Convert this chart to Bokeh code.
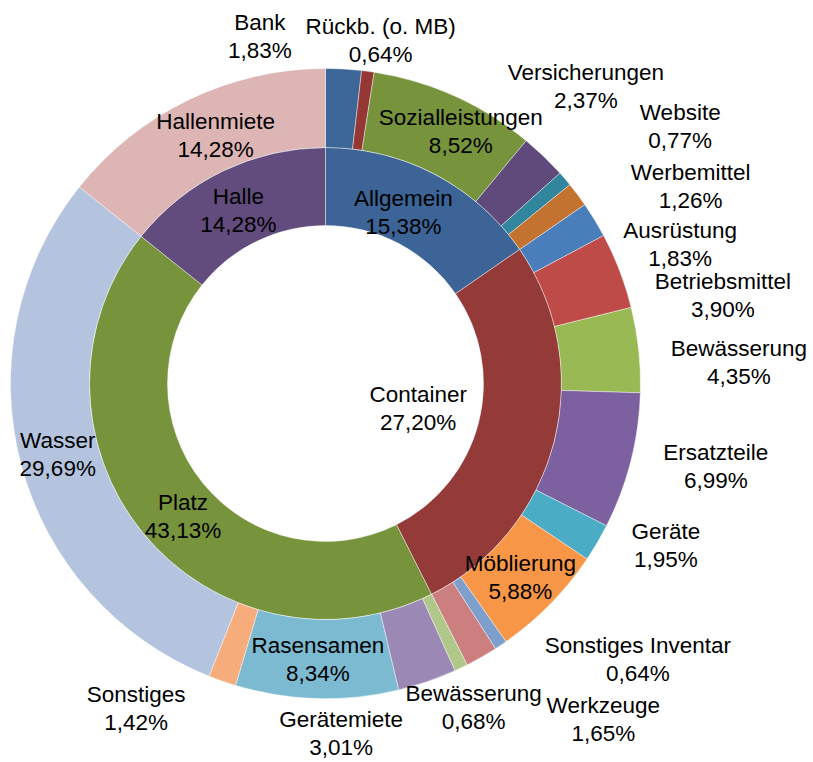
import math
from bokeh.plotting import figure
from bokeh.models import Range1d, ColumnDataSource
from bokeh.core.properties import value
from bokeh.embed import file_html
from bokeh.resources import INLINE

# ---------------- data ----------------
inner_categories = ["Allgemein", "Container", "Platz", "Halle"]
inner_values = [15.38, 27.20, 43.13, 14.28]

outer_categories = [
    "Bank", "Rückb. (o. MB)", "Sozialleistungen", "Versicherungen", "Website",
    "Werbemittel", "Ausrüstung", "Betriebsmittel", "Bewässerung", "Ersatzteile",
    "Geräte", "Möblierung", "Sonstiges Inventar", "Werkzeuge", "Bewässerung",
    "Gerätemiete", "Rasensamen", "Sonstiges", "Wasser", "Hallenmiete",
]
outer_values = [
    1.83, 0.64, 8.52, 2.37, 0.77,
    1.26, 1.83, 3.90, 4.35, 6.99,
    1.95, 5.88, 0.64, 1.65, 0.68,
    3.01, 8.34, 1.42, 29.69, 14.28,
]

# ---------------- styles ----------------
inner_colors = ["#3C6496", "#943B3A", "#77933C", "#614C7D"]
outer_colors = [
    "#3C6598", "#953735", "#77933C", "#604A7B", "#31859C",
    "#C3732F", "#4A7EBB", "#BE4B48", "#98B954", "#7D60A0",
    "#4BACC6", "#F79646", "#7E9FCC", "#CB7F7E", "#AFC88A",
    "#9B88B4", "#7CBAD1", "#F7AC7C", "#B4C4DF", "#DDB5B4",
]

# label layout (radius in px, angular shift in degrees from slice middle)
inner_label_layout = [(188, -3.2), (96, 0.7), (195, -4.0), (194, -1.0)]
outer_label_layout = [
    (353, -14.0), (347, 1.4), (286, 4.0), (395, -2.6), (438, 4.6),
    (415, 8.5), (381, 9.9), (407, 8.5), (414, 3.2), (399, -2.3),
    (377, -4.9), (275, 0.4), (417, -14.7), (436, -9.9), (356, 0.9),
    (350, 16.3), (276, 0.0), (376, 11.1), (277, 0.0), (271, 1.8),
]

R_HOLE, R_MID, R_OUT = 158, 236, 315
FONT = "Liberation Sans"
FSIZE = "22.5px"
LINE_GAP = 14

p = figure(width=812, height=760, x_range=Range1d(-325, 487), y_range=Range1d(-377, 383),
           output_backend="svg", toolbar_location=None, min_border=0,
           x_axis_type=None, y_axis_type=None)
p.grid.visible = False
p.outline_line_color = None
p.background_fill_color = "white"
p.border_fill_color = "white"


def ring(values, colors, r_in, r_out):
    total = sum(values)
    starts, ends, mids = [], [], []
    cum = 0.0
    for v in values:
        a0 = cum / total
        cum += v
        a1 = cum / total
        starts.append(math.pi / 2 - a1 * 2 * math.pi)
        ends.append(math.pi / 2 - a0 * 2 * math.pi)
        mids.append((a0 + a1) / 2 * 360.0)  # degrees clockwise from top
    src = ColumnDataSource(dict(start=starts, end=ends, color=colors))
    p.annular_wedge(x=0, y=0, inner_radius=r_in, outer_radius=r_out,
                    start_angle="start", end_angle="end", direction="anticlock",
                    fill_color="color", line_color="white", line_alpha=0.6,
                    line_width=0.7, source=src)
    return mids


def labels(names, values, mids, layout):
    xs, ys_n, ys_p, names_t, pcts = [], [], [], [], []
    for name, v, m, (r, sh) in zip(names, values, mids, layout):
        a = math.radians(m + sh)
        cx = r * math.sin(a)
        cy = r * math.cos(a)
        xs.append(cx)
        ys_n.append(cy + LINE_GAP)
        ys_p.append(cy - LINE_GAP)
        names_t.append(name)
        pcts.append(f"{v:.2f}".replace(".", ",") + "%")
    src = ColumnDataSource(dict(x=xs, yn=ys_n, yp=ys_p, name=names_t, pct=pcts))
    for ycol, tcol in (("yn", "name"), ("yp", "pct")):
        p.text(x="x", y=ycol, text=tcol, source=src, text_align="center",
               text_baseline="middle", text_font=value(FONT),
               text_font_size=FSIZE, text_color="black")


inner_mids = ring(inner_values, inner_colors, R_HOLE, R_MID)
outer_mids = ring(outer_values, outer_colors, R_MID, R_OUT)
labels(inner_categories, inner_values, inner_mids, inner_label_layout)
labels(outer_categories, outer_values, outer_mids, outer_label_layout)

open("out.html", "w").write(file_html(p, INLINE))
